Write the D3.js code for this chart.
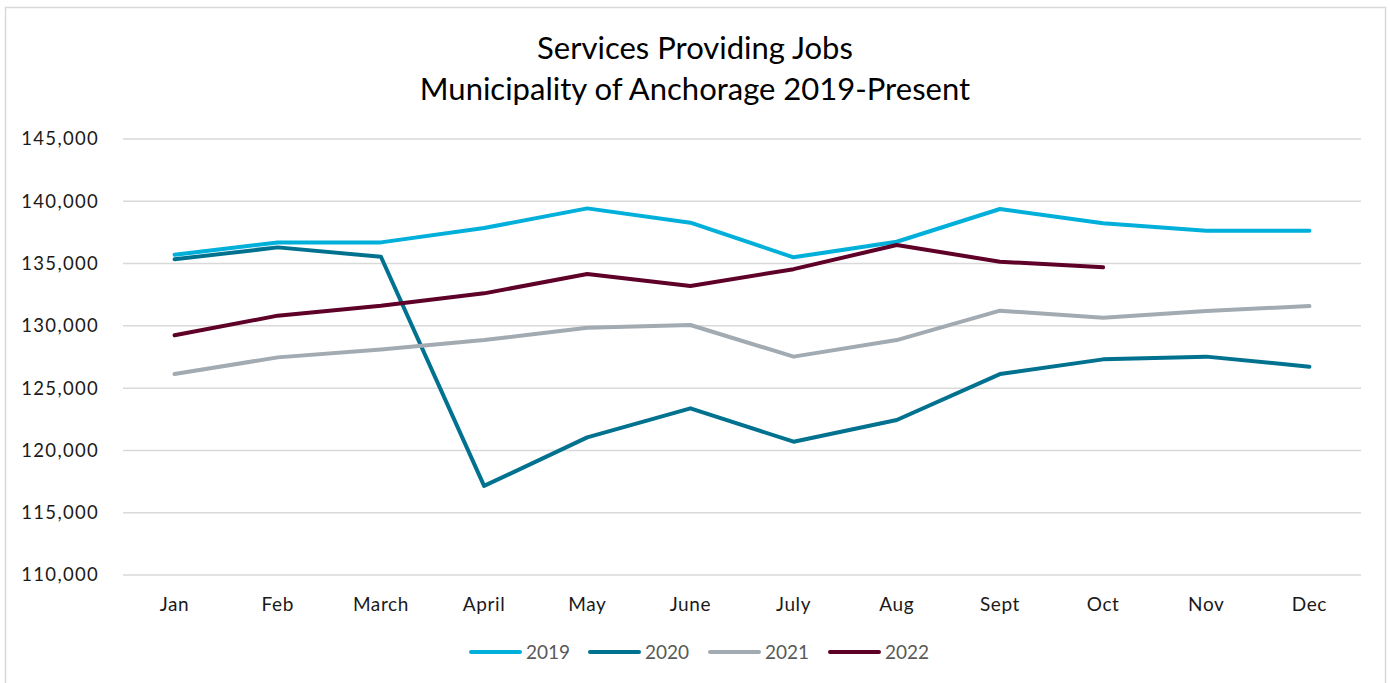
<!DOCTYPE html>
<html>
<head>
<meta charset="utf-8">
<script src="https://cdn.jsdelivr.net/npm/d3@7"></script>
<style>
  html, body { margin: 0; padding: 0; background: #fff; }
  svg { display: block; }
  text { font-family: Lato, "Open Sans", sans-serif; }
</style>
</head>
<body>
<svg id="chart" width="1390" height="683"></svg>
<script>
const months = ["Jan", "Feb", "March", "April", "May", "June", "July", "Aug", "Sept", "Oct", "Nov", "Dec"];
const seriesNames = ["2019", "2020", "2021", "2022"];
const seriesColors = ["#00B0DA", "#00728F", "#A2AAB2", "#5E0028"];
const values2019 = [135700, 136700, 136700, 137850, 139430, 138280, 135500, 136750, 139380, 138230, 137640, 137640];
const values2020 = [135340, 136300, 135550, 117150, 121050, 123380, 120700, 122440, 126130, 127310, 127530, 126720];
const values2021 = [126130, 127470, 128110, 128860, 129850, 130070, 127530, 128860, 131220, 130660, 131190, 131590];
const values2022 = [129240, 130820, 131620, 132610, 134160, 133200, 134550, 136490, 135150, 134700];
const yTicks = [110000, 115000, 120000, 125000, 130000, 135000, 140000, 145000];
const titleLines = ["Services Providing Jobs", "Municipality of Anchorage 2019-Present"];

const allSeries = [values2019, values2020, values2021, values2022];

const W = 1390, H = 683;
const svg = d3.select("#chart");

// outer chart border
svg.append("rect")
  .attr("x", 5.5).attr("y", 7.5)
  .attr("width", 1380).attr("height", 700)
  .attr("fill", "#fff").attr("stroke", "#D9D9D9").attr("stroke-width", 1.5);

const plot = { left: 123, right: 1361, top: 139, bottom: 575 };

const x = d3.scaleBand().domain(months).range([plot.left, plot.right]).padding(0);
const y = d3.scaleLinear().domain([110000, 145000]).range([plot.bottom, plot.top]);

// gridlines
svg.append("g")
  .selectAll("line").data(yTicks).join("line")
  .attr("x1", plot.left).attr("x2", plot.right)
  .attr("y1", d => y(d)).attr("y2", d => y(d))
  .attr("stroke", "#D9D9D9").attr("stroke-width", 1.5);

// y axis
const yAxis = d3.axisLeft(y).tickValues(yTicks).tickSize(0).tickPadding(0)
  .tickFormat(d3.format(","));
const gy = svg.append("g").attr("transform", `translate(99,0)`).call(yAxis);
gy.select(".domain").remove();
gy.selectAll("text").attr("font-size", 18.5).attr("fill", "#1a1a1a")
  .attr("letter-spacing", 1.3)
  .attr("font-family", "Lato, sans-serif");

// x axis
const xAxis = d3.axisBottom(x).tickSize(0).tickPadding(0);
const gx = svg.append("g").attr("transform", `translate(0,${plot.bottom + 22})`).call(xAxis);
gx.select(".domain").remove();
gx.selectAll("text").attr("font-size", 19).attr("fill", "#1a1a1a")
  .attr("letter-spacing", 0.6)
  .attr("font-family", "Lato, sans-serif");

// lines
const line = d3.line()
  .x((d, i) => x(months[i]) + x.bandwidth() / 2)
  .y(d => y(d));

svg.append("g").selectAll("path").data(allSeries).join("path")
  .attr("d", d => line(d))
  .attr("fill", "none")
  .attr("stroke", (d, i) => seriesColors[i])
  .attr("stroke-width", 4)
  .attr("stroke-linejoin", "round")
  .attr("stroke-linecap", "round");

// title
svg.append("g").selectAll("text").data(titleLines).join("text")
  .attr("x", 695).attr("y", (d, i) => 59 + i * 41)
  .attr("text-anchor", "middle")
  .attr("font-size", 31)
  .attr("fill", "#000")
  .text(d => d);

// legend
const legendX = [471, 590, 710, 830];
const lg = svg.append("g").selectAll("g").data(seriesNames).join("g")
  .attr("transform", (d, i) => `translate(${legendX[i]},652)`);
lg.append("line").attr("x1", 0).attr("x2", 49).attr("y1", 0).attr("y2", 0)
  .attr("stroke", (d, i) => seriesColors[i]).attr("stroke-width", 4)
  .attr("stroke-linecap", "round");
lg.append("text").attr("x", 55).attr("y", 7)
  .attr("font-size", 19).attr("fill", "#595959")
  .text(d => d);
</script>
</body>
</html>
